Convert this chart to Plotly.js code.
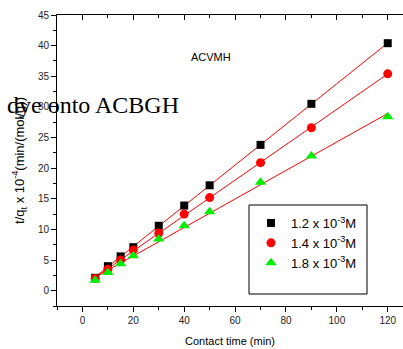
<!DOCTYPE html>
<html>
<head>
<meta charset="utf-8">
<script src="https://cdn.plot.ly/plotly-3.0.1.min.js"></script>
<style>html,body{margin:0;padding:0;background:#fff}#chart{width:403px;height:349px}</style>
</head>
<body>
<div id="chart"></div>
<script>
var time = [5, 10, 15, 20, 30, 40, 50, 70, 90, 120];
var conc12 = [2.1, 4.0, 5.6, 7.1, 10.6, 13.9, 17.2, 23.8, 30.5, 40.4];
var conc14 = [2.0, 3.5, 5.0, 6.65, 9.4, 12.5, 15.2, 20.9, 26.6, 35.4];
var conc18 = [1.7, 2.95, 4.4, 5.7, 8.45, 10.6, 12.9, 17.7, 22.0, 28.4];
var seriesNames = ["1.2 x 10<sup>-3</sup>M", "1.4 x 10<sup>-3</sup>M", "1.8 x 10<sup>-3</sup>M"];
var xTicks = [0, 20, 40, 60, 80, 100, 120];
var yTicks = [0, 5, 10, 15, 20, 25, 30, 35, 40, 45];

function fit(xs, ys) {
  var n = xs.length, sx = 0, sy = 0, sxx = 0, sxy = 0;
  for (var i = 0; i < n; i++) { sx += xs[i]; sy += ys[i]; sxx += xs[i]*xs[i]; sxy += xs[i]*ys[i]; }
  var b = (n*sxy - sx*sy) / (n*sxx - sx*sx);
  var a = (sy - b*sx) / n;
  var x0 = xs[0], x1 = xs[n-1];
  return {x: [x0, x1], y: [a + b*x0, a + b*x1]};
}

var sets = [conc12, conc14, conc18];
var markers = [
  {symbol: "square", size: 8, color: "#000000"},
  {symbol: "circle", size: 9, color: "#ff0000"},
  {symbol: "triangle-up", size: 10, color: "#00ee00"}
];
var traces = [];
sets.forEach(function (ys, i) {
  var f = fit(time, ys);
  traces.push({x: f.x, y: f.y, mode: "lines", line: {color: "#ff0000", width: 1}, showlegend: false, hoverinfo: "skip"});
});
sets.forEach(function (ys, i) {
  traces.push({x: time, y: ys, mode: "markers", name: seriesNames[i], marker: markers[i]});
});
traces.push({x: [time[0]], y: [conc12[0]], xaxis: "x2", yaxis: "y", mode: "markers", marker: {opacity: 0}, showlegend: false, hoverinfo: "skip"});

var tickFont = {family: "Liberation Sans, Arial, sans-serif", size: 10, color: "#222"};
var pw = 346, ph = 291, ml = 57, mt = 15;
function px(x) { return (x - ml) / pw; }
function py(y) { return (mt + ph - y) / ph; }
var layout = {
  width: 403, height: 349,
  margin: {l: ml, r: 0, t: mt, b: 43},
  paper_bgcolor: "#fff", plot_bgcolor: "#fff",
  font: {family: "Liberation Sans, Arial, sans-serif", color: "#000"},
  xaxis: {
    range: [-10, 126], tickvals: xTicks, ticktext: xTicks.map(String),
    ticks: "outside", ticklen: 5, tickwidth: 1, tickcolor: "#000",
    minor: {dtick: 10, tick0: 0, ticks: "outside", ticklen: 3, tickcolor: "#000"},
    showline: true, linecolor: "#000", linewidth: 1, showgrid: false, zeroline: false,
    tickfont: tickFont,
    title: {text: "Contact time (min)", font: {size: 11, color: "#000"}, standoff: 12}
  },
  xaxis2: {
    overlaying: "x", side: "top", range: [-10, 126], tickvals: xTicks,
    ticks: "inside", ticklen: 5, tickcolor: "#000",
    minor: {dtick: 10, tick0: 0, ticks: "inside", ticklen: 3, tickcolor: "#000"},
    showticklabels: false, showline: true, linecolor: "#000", linewidth: 1,
    showgrid: false, zeroline: false
  },
  yaxis: {
    range: [-2.5, 45], tickvals: yTicks, ticktext: yTicks.map(String),
    ticks: "outside", ticklen: 5, tickwidth: 1, tickcolor: "#000",
    minor: {dtick: 2.5, tick0: 0, ticks: "outside", ticklen: 3, tickcolor: "#000"},
    showline: true, linecolor: "#000", linewidth: 1, showgrid: false, zeroline: false,
    tickfont: tickFont,
    title: {text: "t/q<sub>t</sub> x 10<sup>-4</sup>(min/(mol/g))", font: {size: 13, color: "#000"}, standoff: 10}
  },
  legend: {
    x: px(251), y: py(208), xanchor: "left", yanchor: "top",
    borderwidth: 0, bgcolor: "rgba(0,0,0,0)",
    font: {size: 13, color: "#000"}, itemwidth: 30
  },
  shapes: [
    {type: "rect", xref: "paper", yref: "paper", x0: px(249), x1: px(367), y0: py(294), y1: py(205),
     line: {color: "#000", width: 1}, fillcolor: "rgba(0,0,0,0)", layer: "above"}
  ],
  annotations: [
    {text: "ACVMH", x: 50.5, y: 38.1, xref: "x", yref: "y", showarrow: false,
     font: {size: 11, color: "#000"}},
    {text: "dye onto ACBGH", x: px(181), y: py(105), xref: "paper", yref: "paper", xanchor: "right", yanchor: "middle",
     showarrow: false, font: {family: "Liberation Serif, Times New Roman, serif", size: 24, color: "#000"}}
  ],
  showlegend: true
};
Plotly.newPlot("chart", traces, layout, {displayModeBar: false, staticPlot: true});
</script>
</body>
</html>
